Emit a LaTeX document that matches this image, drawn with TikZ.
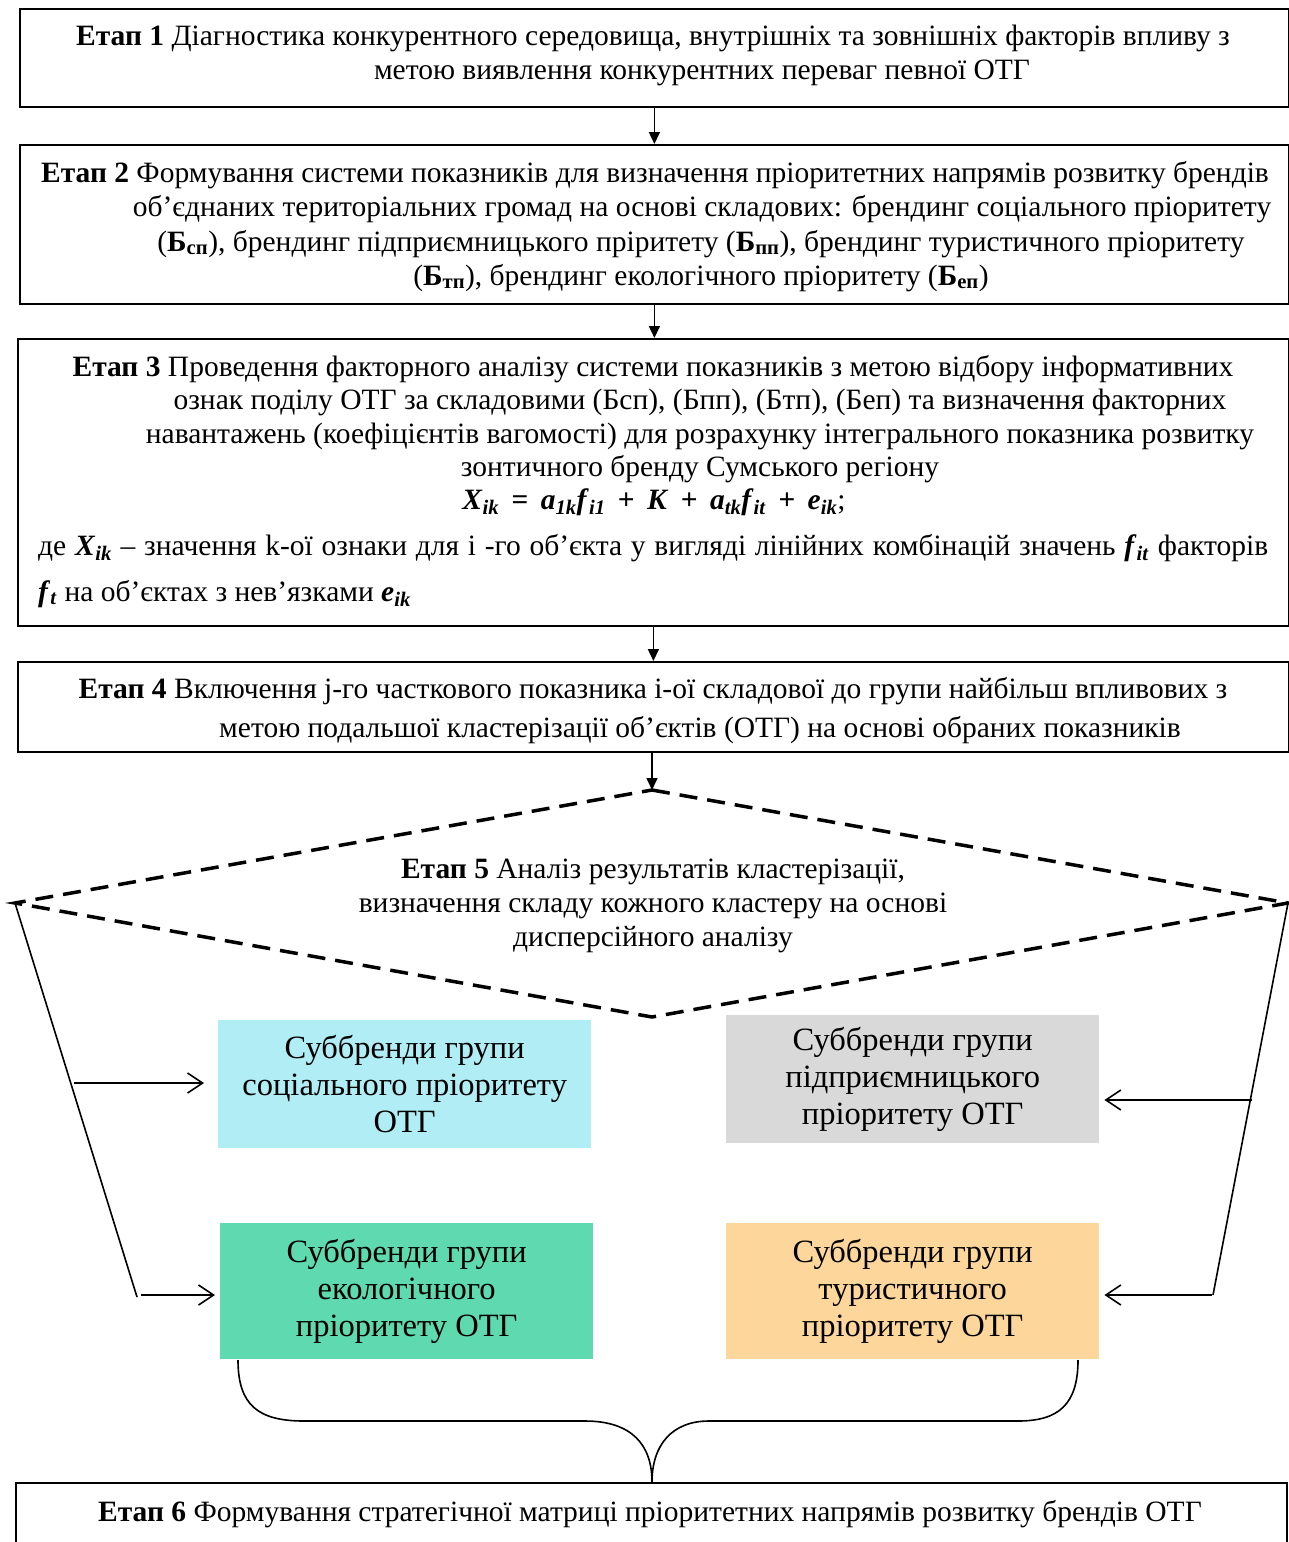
\documentclass[tikz,border=0pt]{standalone}
\usepackage{fontspec}
\setmainfont{Liberation Serif}
\usetikzlibrary{arrows.meta,calc}
\definecolor{cyanbox}{RGB}{176,237,244}
\definecolor{greybox}{RGB}{217,217,217}
\definecolor{greenbox}{RGB}{94,217,176}
\definecolor{orangebox}{RGB}{252,214,154}
\newcommand\Bsub[1]{\textbf{Б}\textsubscript{\textbf{#1}}}
\newcommand\fv[2]{\textbf{\textit{#1}}\textsubscript{\textbf{\textit{#2}}}}
\newcommand\opsp{\hspace{0.42em}}
\begin{document}
\begin{tikzpicture}[x=1pt,y=-1pt,
  stagebox/.style={draw, line width=1.8pt, inner sep=0pt, anchor=north west},
  txt/.style={font=\fontsize{29.5}{34}\selectfont, inner sep=0pt, anchor=base},
  txtl/.style={txt, anchor=base west},
  subbox/.style={inner sep=0pt, anchor=north west, align=center, minimum width=373pt,
     font=\fontsize{32.5}{37}\selectfont},
  flow/.style={line width=1.6pt, -{Triangle[length=12pt,width=11pt]}},
  side/.style={line width=1.6pt},
  sarrow/.style={line width=1.6pt, -{Straight Barb[length=15pt,width=20pt,line width=1.6pt]}},
  dia/.style={line width=3.5pt, dash pattern=on 18pt off 10pt}]
\useasboundingbox (0,0) rectangle (1289,1542);
\clip (0,0) rectangle (1289,1542);

% ---- Stage 1
\node[stagebox, minimum width=1269pt, minimum height=98pt] (b1) at (19,8) {};
\node[txt] (t1a) at (653,45) {\textbf{Етап 1} Діагностика конкурентного середовища, внутрішніх та зовнішніх факторів впливу з};
\node[txt] (t1b) at (702,79) {метою виявлення конкурентних переваг певної ОТГ};

% ---- Stage 2
\node[stagebox, minimum width=1269pt, minimum height=159pt] (b2) at (19,144) {};
\node[txt] (t2a) at (655,182) {\textbf{Етап 2} Формування системи показників для визначення пріоритетних напрямів розвитку брендів};
\node[txt] (t2b) at (702,216.5) {об’єднаних територіальних громад на основі складових: брендинг соціального пріоритету};
\node[txt] (t2c) at (701,251) {(\Bsub{сп}), брендинг підприємницького пріритету (\Bsub{пп}), брендинг туристичного пріоритету};
\node[txt] (t2d) at (701,285) {(\Bsub{тп}), брендинг екологічного пріоритету (\Bsub{еп})};

% ---- Stage 3
\node[stagebox, minimum width=1271pt, minimum height=287pt] (b3) at (17,338) {};
\node[txt] (t3a) at (653,376) {\textbf{Етап 3} Проведення факторного аналізу системи показників з метою відбору інформативних};
\node[txt] (t3b) at (700,409.5) {ознак поділу ОТГ за складовими (Бсп), (Бпп), (Бтп), (Беп) та визначення факторних};
\node[txt] (t3c) at (700,443) {навантажень (коефіцієнтів вагомості) для розрахунку інтегрального показника розвитку};
\node[txt] (t3d) at (700,476.5) {зонтичного бренду Сумського регіону};
\node[txt] (t3e) at (654,509) {\fv{X}{ik}\opsp\textbf{=}\opsp\fv{a}{1k}\fv{f}{i1}\opsp\textbf{+}\opsp\textbf{\textit{K}}\opsp\textbf{+}\opsp\fv{a}{tk}\fv{f}{it}\opsp\textbf{+}\opsp\fv{e}{ik};};
\node[txtl] (t3f) at (38,555) {\hbox to 1230pt{де \fv{X}{ik} – значення k-ої ознаки для і -го об'єкта у вигляді лінійних комбінацій значень \fv{f}{it} факторів}};
\node[txtl] (t3g) at (38,601) {\fv{f}{t} на об'єктах з нев’язками \fv{e}{ik}};

% ---- Stage 4
\node[stagebox, minimum width=1271pt, minimum height=90pt] (b4) at (17,661) {};
\node[txt] (t4a) at (653,698) {\textbf{Етап 4} Включення j-го часткового показника і-ої складової до групи найбільш впливових з};
\node[txt] (t4b) at (700,737) {метою подальшої кластерізації об’єктів (ОТГ) на основі обраних показників};

% ---- Stage 5 (dashed diamond)
\coordinate (dT) at (652,790);
\coordinate (dR) at (1288,903);
\coordinate (dB) at (652,1017);
\coordinate (dL) at (15,903);
\draw[dia] (dT) -- (dR) -- (dB) -- (dL) -- cycle;
\node[txt] (t5a) at (653,878) {\textbf{Етап 5} Аналіз результатів кластерізації,};
\node[txt] (t5b) at (653,912) {визначення складу кожного кластеру на основі};
\node[txt] (t5c) at (653,946) {дисперсійного аналізу};

% ---- Sub-brand boxes
\node[subbox, fill=cyanbox, minimum height=128pt] (cy) at (218,1020) {Суббренди групи\\соціального пріоритету\\ОТГ};
\node[subbox, fill=greybox, minimum height=128pt] (gr) at (726,1015) {Суббренди групи\\підприємницького\\пріоритету ОТГ};
\node[subbox, fill=greenbox, minimum height=136pt] (gn) at (220,1223) {Суббренди групи\\екологічного\\пріоритету ОТГ};
\node[subbox, fill=orangebox, minimum height=136pt] (or) at (726,1223) {Суббренди групи\\туристичного\\пріоритету ОТГ};

% ---- Stage 6
\node[stagebox, minimum width=1271pt, minimum height=80pt] (b6) at (15,1482) {};
\node[txt] (t6a) at (650,1521) {\textbf{Етап 6} Формування стратегічної матриці пріоритетних напрямів розвитку брендів ОТГ};

% ---- flow arrows
\draw[flow] (b1.south) -- (b1.south |- b2.north);
\draw[flow] (b2.south) -- (b2.south |- b3.north);
\draw[flow] (b3.south) -- (b3.south |- b4.north);
\draw[flow] (b4.south -| dT) -- (dT);

% ---- side lines and arrows
\coordinate (lEnd) at (137,1297);
\coordinate (rEnd) at (1213,1295);
\draw[side] (dL) -- (lEnd);
\draw[side] (dR) -- (rEnd);
\coordinate (la1) at (74,1083);
\coordinate (la2) at (141,1295);
\coordinate (ra1) at (1252,1100);
\coordinate (ra2) at (1212,1295);
\draw[sarrow, shorten >=14pt] (la1) -- (la1 -| cy.west);
\draw[sarrow, shorten >=5pt] (la2) -- (la2 -| gn.west);
\draw[sarrow, shorten >=5pt] (ra1) -- (ra1 -| gr.east);
\draw[sarrow, shorten >=5pt] (ra2) -- (ra2 -| or.east);

% ---- brace
\coordinate (brL) at (238,1360);
\coordinate (brR) at (1078,1360);
\coordinate (brM) at (652,1482);
\draw[side] (brL) .. controls (238,1405) and (258,1421) .. (304,1421) -- (585,1421)
   .. controls (632,1421) and (652,1445) .. (brM);
\draw[side] (brR) .. controls (1078,1405) and (1058,1421) .. (1018,1421) -- (709,1421)
   .. controls (672,1421) and (652,1445) .. (brM);
\end{tikzpicture}
\end{document}
